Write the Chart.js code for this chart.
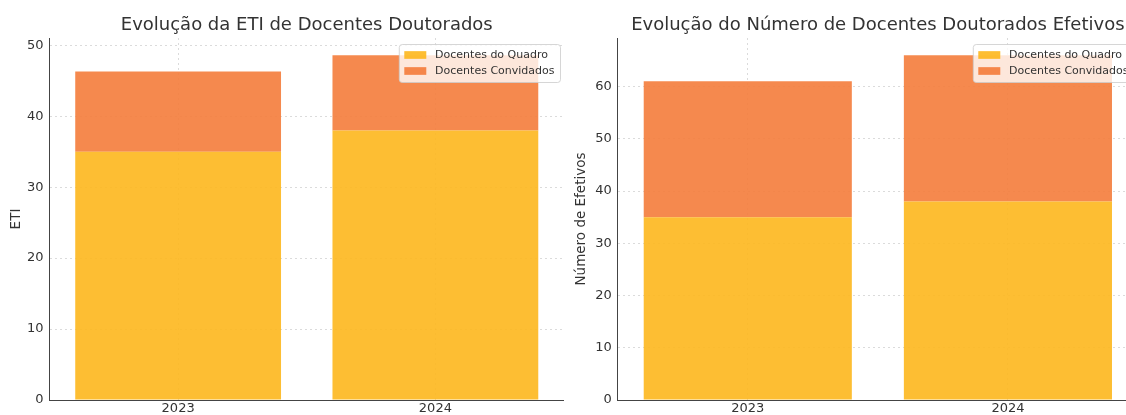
<!DOCTYPE html>
<html lang="pt">
<head>
<meta charset="utf-8">
<title>Docentes Doutorados</title>
<script src="https://cdn.jsdelivr.net/npm/chart.js@4.4.1/dist/chart.umd.min.js"></script>
<style>
  html, body { margin: 0; background: #fff; }
  #wrap { position: relative; width: 1126px; height: 415px; overflow: hidden; }
  #wrap canvas { position: absolute; top: 0; }
  #etiChart { left: 0; }
  #efetivosChart { left: 564px; }
</style>
</head>
<body>
<div id="wrap">
  <canvas id="etiChart" width="564" height="430"></canvas>
  <canvas id="efetivosChart" width="596" height="430"></canvas>
</div>
<script>
const years = ["2023", "2024"];
const etiQuadro = [35, 38];
const etiConvidados = [11.3, 10.6];
const efetivosQuadro = [35, 38];
const efetivosConvidados = [26, 28];
const yTickStep = 10;

const colorQuadro = "rgba(253, 183, 29, 0.9)";
const colorConvidados = "rgba(244, 124, 59, 0.9)";
const gridColor = "rgba(0, 0, 0, 0.14)";
const axisColor = "#444";
const textColor = "#333";

Chart.defaults.font.family = "'DejaVu Sans', sans-serif";
Chart.defaults.color = textColor;

// Legend box drawn inside the plot, top right corner
const cornerLegend = {
  id: "cornerLegend",
  afterDraw(chart) {
    const { ctx, chartArea } = chart;
    const items = chart.data.datasets;
    const fontSize = 11;
    ctx.save();
    ctx.font = `${fontSize}px 'DejaVu Sans', sans-serif`;
    const textWidth = Math.max(...items.map((d) => ctx.measureText(d.label).width));
    const pad = 5.5;
    const handleW = 22;
    const handleH = 7.7;
    const gap = 8.8;
    const rowH = 16;
    const boxW = pad + handleW + gap + textWidth + pad;
    const boxH = 22 + rowH * (items.length - 1);
    const x = chartArea.right - 4 - boxW;
    const y = chartArea.top + 6;

    ctx.beginPath();
    ctx.roundRect(x + 0.5, y + 0.5, boxW, boxH, 3);
    ctx.fillStyle = "rgba(255, 255, 255, 0.8)";
    ctx.fill();
    ctx.strokeStyle = "rgba(204, 204, 204, 0.8)";
    ctx.lineWidth = 1;
    ctx.stroke();

    ctx.textBaseline = "middle";
    ctx.textAlign = "left";
    items.forEach((d, i) => {
      const cy = y + 11 + i * rowH;
      ctx.fillStyle = d.backgroundColor;
      ctx.fillRect(x + pad, cy - handleH / 2, handleW, handleH);
      ctx.fillStyle = textColor;
      ctx.fillText(d.label, x + pad + handleW + gap, cy);
    });
    ctx.restore();
  },
};

const makeChart = (canvasId, cfg) => {
  const totals = cfg.quadro.map((v, i) => v + cfg.convidados[i]);

  return new Chart(document.getElementById(canvasId), {
    type: "bar",
    data: {
      labels: years,
      datasets: [
        {
          label: "Docentes do Quadro",
          data: cfg.quadro,
          backgroundColor: colorQuadro,
          borderWidth: 0,
          categoryPercentage: 1,
          barPercentage: 0.8,
        },
        {
          label: "Docentes Convidados",
          data: cfg.convidados,
          backgroundColor: colorConvidados,
          borderWidth: 0,
          categoryPercentage: 1,
          barPercentage: 0.8,
        },
      ],
    },
    options: {
      responsive: false,
      animation: false,
      devicePixelRatio: 1,
      layout: { padding: { left: 0, right: cfg.padRight, top: 0, bottom: 0 } },
      plugins: {
        legend: { display: false },
        tooltip: { enabled: false },
        title: {
          display: true,
          text: cfg.title,
          fullSize: false,
          color: textColor,
          font: { size: 18, weight: "normal" },
          padding: { top: 14.2, bottom: 2.2 },
        },
      },
      scales: {
        x: {
          stacked: true,
          offset: true,
          grid: { offset: false, drawTicks: false, color: gridColor },
          border: { display: true, color: axisColor, width: 1, dash: [2, 3] },
          ticks: { padding: 1, color: textColor, font: { size: 13 } },
          afterFit: (scale) => {
            scale.height = 30;
          },
        },
        y: {
          stacked: true,
          min: 0,
          max: Math.max(...totals) * 1.05,
          grid: { drawTicks: false, color: gridColor },
          border: { display: true, color: axisColor, width: 1, dash: [2, 3] },
          ticks: {
            stepSize: yTickStep,
            includeBounds: false,
            padding: 6,
            color: textColor,
            font: { size: 13 },
          },
          title: {
            display: true,
            text: cfg.yTitle,
            color: textColor,
            font: { size: 13.5 },
            padding: { top: cfg.yTitlePad, bottom: 0 },
          },
          afterFit: (scale) => {
            scale.width = cfg.axisWidth;
          },
        },
      },
    },
    plugins: [cornerLegend],
  });
};

makeChart("etiChart", {
  title: "Evolução da ETI de Docentes Doutorados",
  yTitle: "ETI",
  quadro: etiQuadro,
  convidados: etiConvidados,
  axisWidth: 49.5,
  yTitlePad: 7.9,
  padRight: 0,
});

makeChart("efetivosChart", {
  title: "Evolução do Número de Docentes Doutorados Efetivos",
  yTitle: "Número de Efetivos",
  quadro: efetivosQuadro,
  convidados: efetivosConvidados,
  axisWidth: 53.7,
  yTitlePad: 9.6,
  padRight: 22,
});
</script>
</body>
</html>
